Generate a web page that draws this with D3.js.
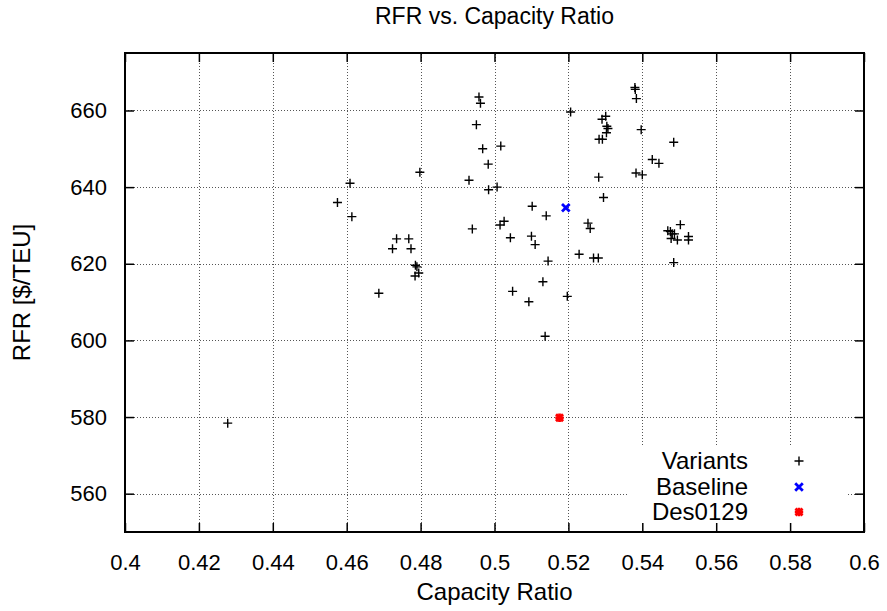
<!DOCTYPE html>
<html>
<head>
<meta charset="utf-8">
<script src="https://cdn.jsdelivr.net/npm/d3@7"></script>
<style>
  body { margin: 0; background: #fff; }
  text { font-family: "Liberation Sans", Arial, sans-serif; fill: #000; }
</style>
</head>
<body>
<div id="chart"></div>
<script>
// variants
var variantsX = [0.4798, 0.4609, 0.4575, 0.4614, 0.4735, 0.4768, 0.4724, 0.4774, 0.4786, 0.4790,
  0.4785, 0.4795, 0.4687, 0.4278, 0.4958, 0.4962, 0.4951, 0.5017, 0.4968, 0.4983,
  0.4931, 0.5007, 0.4984, 0.5102, 0.5140, 0.4940, 0.5026, 0.5015, 0.5043, 0.5100,
  0.5110, 0.5145, 0.5131, 0.5049, 0.5093, 0.5137, 0.5380, 0.5381, 0.5384, 0.5206,
  0.5301, 0.5291, 0.5304, 0.5307, 0.5303, 0.5283, 0.5292, 0.5397, 0.5485, 0.5427,
  0.5445, 0.5383, 0.5400, 0.5282, 0.5295, 0.5253, 0.5259, 0.5229, 0.5268, 0.5281,
  0.5197, 0.5503, 0.5469, 0.5476, 0.5481, 0.5487, 0.5478, 0.5495, 0.5525, 0.5525,
  0.5485];
var variantsY = [643.9, 641.0, 636.0, 632.3, 626.5, 626.5, 623.9, 623.9, 619.6, 619.2,
  616.8, 617.6, 612.3, 578.4, 663.5, 661.9, 656.3, 650.7, 650.0, 646.0,
  641.8, 640.0, 639.3, 635.0, 632.5, 629.1, 631.1, 630.1, 626.8, 627.2,
  625.0, 620.7, 615.3, 612.8, 610.1, 601.1, 666.0, 665.5, 663.1, 659.6,
  658.5, 657.7, 655.9, 655.3, 654.2, 652.5, 652.5, 655.0, 651.7, 647.2,
  646.2, 643.7, 643.2, 642.6, 637.3, 630.6, 629.2, 622.5, 621.5, 621.5,
  611.5, 630.2, 628.6, 628.4, 627.8, 627.8, 626.6, 626.2, 627.1, 626.2,
  620.3];
var baseline = [0.5193, 634.6];
var design = [0.5176, 579.8];

var xTicks = [0.4, 0.42, 0.44, 0.46, 0.48, 0.5, 0.52, 0.54, 0.56, 0.58, 0.6];
var yTicks = [560, 580, 600, 620, 640, 660];
var legendNames = ["Variants", "Baseline", "Des0129"];

var width = 887, height = 611;
var margin = {top: 53, right: 23, bottom: 79, left: 125};

var svg = d3.select("#chart").append("svg")
    .attr("width", width)
    .attr("height", height);

var x = d3.scaleLinear()
    .domain([0.4, 0.6])
    .range([margin.left, width - margin.right]);

var y = d3.scaleLinear()
    .domain([550, 675])
    .range([height - margin.bottom, margin.top]);

var x0 = x.range()[0], x1 = x.range()[1];
var y0 = y.range()[0], y1 = y.range()[1];

// grid
var grid = svg.append("g")
    .attr("stroke", "#555")
    .attr("stroke-width", 1)
    .attr("stroke-dasharray", "1,2");

grid.selectAll("line.gx")
    .data(xTicks.slice(1, -1))
    .enter().append("line")
    .attr("x1", function(d) { return Math.round(x(d)) + 0.5; })
    .attr("x2", function(d) { return Math.round(x(d)) + 0.5; })
    .attr("y1", y0)
    .attr("y2", y1);

grid.selectAll("line.gy")
    .data(yTicks)
    .enter().append("line")
    .attr("y1", function(d) { return Math.round(y(d)) + 0.5; })
    .attr("y2", function(d) { return Math.round(y(d)) + 0.5; })
    .attr("x1", x0)
    .attr("x2", x1);

// key box (opaque, hides the grid)
var keyBox = {x: 628, y: 447, w: 220, h: 84};
svg.append("rect")
    .attr("x", keyBox.x)
    .attr("y", keyBox.y)
    .attr("width", keyBox.w)
    .attr("height", keyBox.h)
    .style("fill", "#fff");

// axes with inward ticks, mirrored
var tickLen = 9;
svg.append("g")
    .attr("transform", "translate(0," + y0 + ")")
    .call(d3.axisBottom(x).tickValues(xTicks).tickSize(-tickLen).tickPadding(22)
      .tickFormat(function(d) { return d3.format("")(+d.toFixed(2)); }))
    .call(function(g) {
      g.select(".domain").remove();
      g.selectAll(".tick line").attr("stroke", "#000").attr("stroke-width", 1.5);
      g.selectAll(".tick text").style("font-size", "22px");
    });

svg.append("g")
    .attr("transform", "translate(0," + y1 + ")")
    .call(d3.axisTop(x).tickValues(xTicks).tickSize(-tickLen).tickFormat(""))
    .call(function(g) {
      g.select(".domain").remove();
      g.selectAll(".tick line").attr("stroke", "#000").attr("stroke-width", 1.5);
    });

svg.append("g")
    .attr("transform", "translate(" + x0 + ",0)")
    .call(d3.axisLeft(y).tickValues(yTicks).tickSize(-tickLen).tickPadding(18))
    .call(function(g) {
      g.select(".domain").remove();
      g.selectAll(".tick line").attr("stroke", "#000").attr("stroke-width", 1.5);
      g.selectAll(".tick text").style("font-size", "22px");
    });

svg.append("g")
    .attr("transform", "translate(" + x1 + ",0)")
    .call(d3.axisRight(y).tickValues(yTicks).tickSize(-tickLen).tickFormat(""))
    .call(function(g) {
      g.select(".domain").remove();
      g.selectAll(".tick line").attr("stroke", "#000").attr("stroke-width", 1.5);
    });

// frame
svg.append("rect")
    .attr("x", x0)
    .attr("y", y1)
    .attr("width", x1 - x0)
    .attr("height", y0 - y1)
    .style("fill", "none")
    .style("stroke", "#000")
    .style("stroke-width", 2);

// markers
function plus(g, cx, cy, r) {
  g.append("path").attr("d", "M" + (cx - r) + "," + cy + "H" + (cx + r) + "M" + cx + "," + (cy - r) + "V" + (cy + r));
}
function cross(g, cx, cy, r) {
  g.append("path").attr("d", "M" + (cx - r) + "," + (cy - r) + "L" + (cx + r) + "," + (cy + r) +
    "M" + (cx - r) + "," + (cy + r) + "L" + (cx + r) + "," + (cy - r));
}

var pts = svg.append("g").attr("stroke", "#000").attr("stroke-width", 1.4).attr("fill", "none");
variantsX.forEach(function(d, i) {
  plus(pts, x(d), y(variantsY[i]), 4.5);
});

var bl = svg.append("g").attr("stroke", "#0000ff").attr("stroke-width", 2.8);
cross(bl, x(baseline[0]), y(baseline[1]), 3.8);

var ds = svg.append("g").attr("stroke", "#ff0000").attr("stroke-width", 2.8);
plus(ds, x(design[0]), y(design[1]), 4.2);
cross(ds, x(design[0]), y(design[1]), 3.5);

// legend
var legRows = [461, 487, 512];
var legText = 748, legMark = 799;
legendNames.forEach(function(name, i) {
  svg.append("text")
    .attr("x", legText)
    .attr("y", legRows[i])
    .attr("dy", "0.35em")
    .attr("text-anchor", "end")
    .style("font-size", "24px")
    .text(name);
});
var lg0 = svg.append("g").attr("stroke", "#000").attr("stroke-width", 1.4);
plus(lg0, legMark, legRows[0], 4.5);
var lg1 = svg.append("g").attr("stroke", "#0000ff").attr("stroke-width", 2.8);
cross(lg1, legMark, legRows[1], 3.8);
var lg2 = svg.append("g").attr("stroke", "#ff0000").attr("stroke-width", 2.8);
plus(lg2, legMark, legRows[2], 4.2);
cross(lg2, legMark, legRows[2], 3.5);

// titles
svg.append("text")
    .attr("x", (x0 + x1) / 2)
    .attr("y", 16)
    .attr("dy", "0.35em")
    .attr("text-anchor", "middle")
    .style("font-size", "23px")
    .text("RFR vs. Capacity Ratio");

svg.append("text")
    .attr("x", (x0 + x1) / 2)
    .attr("y", 592)
    .attr("dy", "0.35em")
    .attr("text-anchor", "middle")
    .style("font-size", "24px")
    .text("Capacity Ratio");

svg.append("text")
    .attr("transform", "translate(22," + ((y0 + y1) / 2) + ") rotate(-90)")
    .attr("dy", "0.35em")
    .attr("text-anchor", "middle")
    .style("font-size", "24px")
    .text("RFR [$/TEU]");
</script>
</body>
</html>
